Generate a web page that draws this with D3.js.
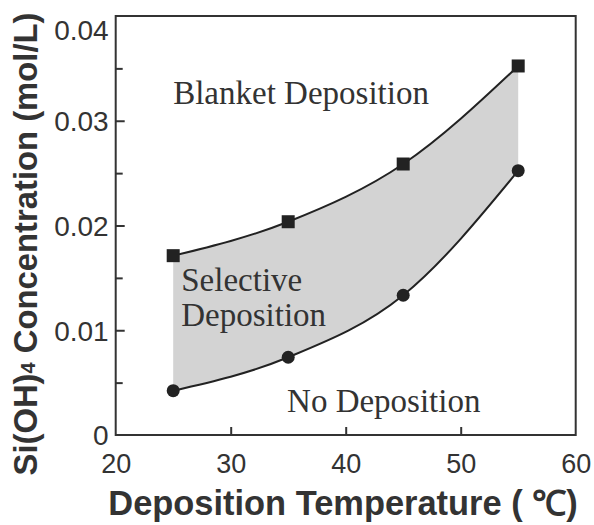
<!DOCTYPE html>
<html><head><meta charset="utf-8">
<script src="https://cdn.jsdelivr.net/npm/d3@7"></script>
<style>body{margin:0;background:#fff}</style>
</head><body>
<svg id="c" width="594" height="525"></svg>
<script>
const temps = [25, 35, 45, 55];
const blanketLimit = [0.01712, 0.02036, 0.02587, 0.03523];
const depositionLimit = [0.00423, 0.00742, 0.01334, 0.02523];
const xTicks = [20, 30, 40, 50, 60];
const yTicks = [0, 0.01, 0.02, 0.03, 0.04];
const yMinor = [0.005, 0.015, 0.025, 0.035];
const regionLabels = [
  {lines: ["Blanket Deposition"], t: 25.0, c: 0.0316},
  {lines: ["Selective", "Deposition"], t: 25.7, c: 0.01379},
  {lines: ["No Deposition"], t: 34.9, c: 0.00222}
];

const svg = d3.select("#c");
const L = 115.7, R = 575.7, T = 16, B = 435;
const x = d3.scaleLinear().domain([20, 60]).range([L, R]);
const y = d3.scaleLinear().domain([0, 0.04]).range([B, T]);
const ink = "#222", txt = "#333";

const data = temps.map((t, i) => ({t, hi: blanketLimit[i], lo: depositionLimit[i]}));
const curve = d3.curveMonotoneX;

svg.append("path").datum(data)
  .attr("d", d3.area().x(d => x(d.t)).y0(d => y(d.lo)).y1(d => y(d.hi)).curve(curve))
  .attr("fill", "#d3d3d3");

svg.append("path").datum(data)
  .attr("d", d3.line().x(d => x(d.t)).y(d => y(d.hi)).curve(curve))
  .attr("fill", "none").attr("stroke", ink).attr("stroke-width", 2);
svg.append("path").datum(data)
  .attr("d", d3.line().x(d => x(d.t)).y(d => y(d.lo)).curve(curve))
  .attr("fill", "none").attr("stroke", ink).attr("stroke-width", 2);

const sq = 13;
svg.selectAll("rect.m").data(data).join("rect").attr("class", "m")
  .attr("x", d => x(d.t) - sq / 2).attr("y", d => y(d.hi) - sq / 2)
  .attr("width", sq).attr("height", sq).attr("fill", ink);
svg.selectAll("circle.m").data(data).join("circle").attr("class", "m")
  .attr("cx", d => x(d.t)).attr("cy", d => y(d.lo)).attr("r", 6.5).attr("fill", ink);

// frame
svg.append("rect").attr("x", L).attr("y", T).attr("width", R - L).attr("height", B - T)
  .attr("fill", "none").attr("stroke", "#333").attr("stroke-width", 2);

// axes
const xa = svg.append("g").attr("transform", `translate(0,${B})`)
  .call(d3.axisBottom(x).tickValues(xTicks).tickFormat(d3.format("d")).tickSizeInner(-8).tickSizeOuter(0));
const ya = svg.append("g").attr("transform", `translate(${L},0)`)
  .call(d3.axisLeft(y).tickValues(yTicks).tickFormat(d => d === 0 ? "0" : d3.format(".2f")(d)).tickSizeInner(-9).tickSizeOuter(0).tickPadding(7));
svg.append("g").attr("transform", `translate(${L},0)`)
  .call(d3.axisLeft(y).tickValues(yMinor).tickFormat("").tickSizeInner(-7).tickSizeOuter(0))
  .call(g => g.select(".domain").remove());
[xa, ya].forEach(g => g.select(".domain").remove());
svg.selectAll(".tick line").attr("stroke", "#333").attr("stroke-width", 2);
svg.selectAll(".tick").filter(d => d === 20 || d === 60).select("line").remove();
svg.selectAll(".tick").filter(d => d === 0.04 || (d === 0)).select("line").remove();
xa.selectAll("text").attr("y", 38).attr("dy", 0)
  .attr("font-family", "Liberation Sans, Arial, sans-serif").attr("font-size", 27).attr("fill", txt);
ya.selectAll("text").attr("font-family", "Liberation Sans, Arial, sans-serif").attr("font-size", 28).attr("fill", txt)
  .attr("dy", d => d === 0.04 ? "0.85em" : "0.35em");

// region labels
regionLabels.forEach(r => {
  const t = svg.append("text").attr("x", x(r.t)).attr("y", y(r.c))
    .attr("font-family", "Liberation Serif, Times New Roman, serif").attr("font-size", 33).attr("fill", txt);
  r.lines.forEach((s, i) => t.append("tspan").attr("x", x(r.t)).attr("dy", i ? 35 : 0).text(s));
});

function fit(sel, target) {
  const w = sel.node().getComputedTextLength();
  const fs = parseFloat(sel.attr("font-size"));
  sel.attr("font-size", fs * target / w);
}

// axis titles
const xt = svg.append("text").attr("x", 343).attr("y", 515).attr("text-anchor", "middle")
  .attr("font-family", "Liberation Sans, Arial, sans-serif").attr("font-weight", "bold")
  .attr("font-size", 31).attr("fill", txt).text("Deposition Temperature ( ℃)");
fit(xt, 470);
const yt = svg.append("text").attr("transform", "translate(37,244) rotate(-90)").attr("text-anchor", "middle")
  .attr("font-family", "Liberation Sans, Arial, sans-serif").attr("font-weight", "bold")
  .attr("font-size", 32.8).attr("fill", txt);
yt.append("tspan").text("Si(OH)");
yt.append("tspan").attr("font-size", 20).attr("dy", -2).text("4");
yt.append("tspan").attr("dy", 2).text(" Concentration (mol/L)");
</script>
</body></html>
